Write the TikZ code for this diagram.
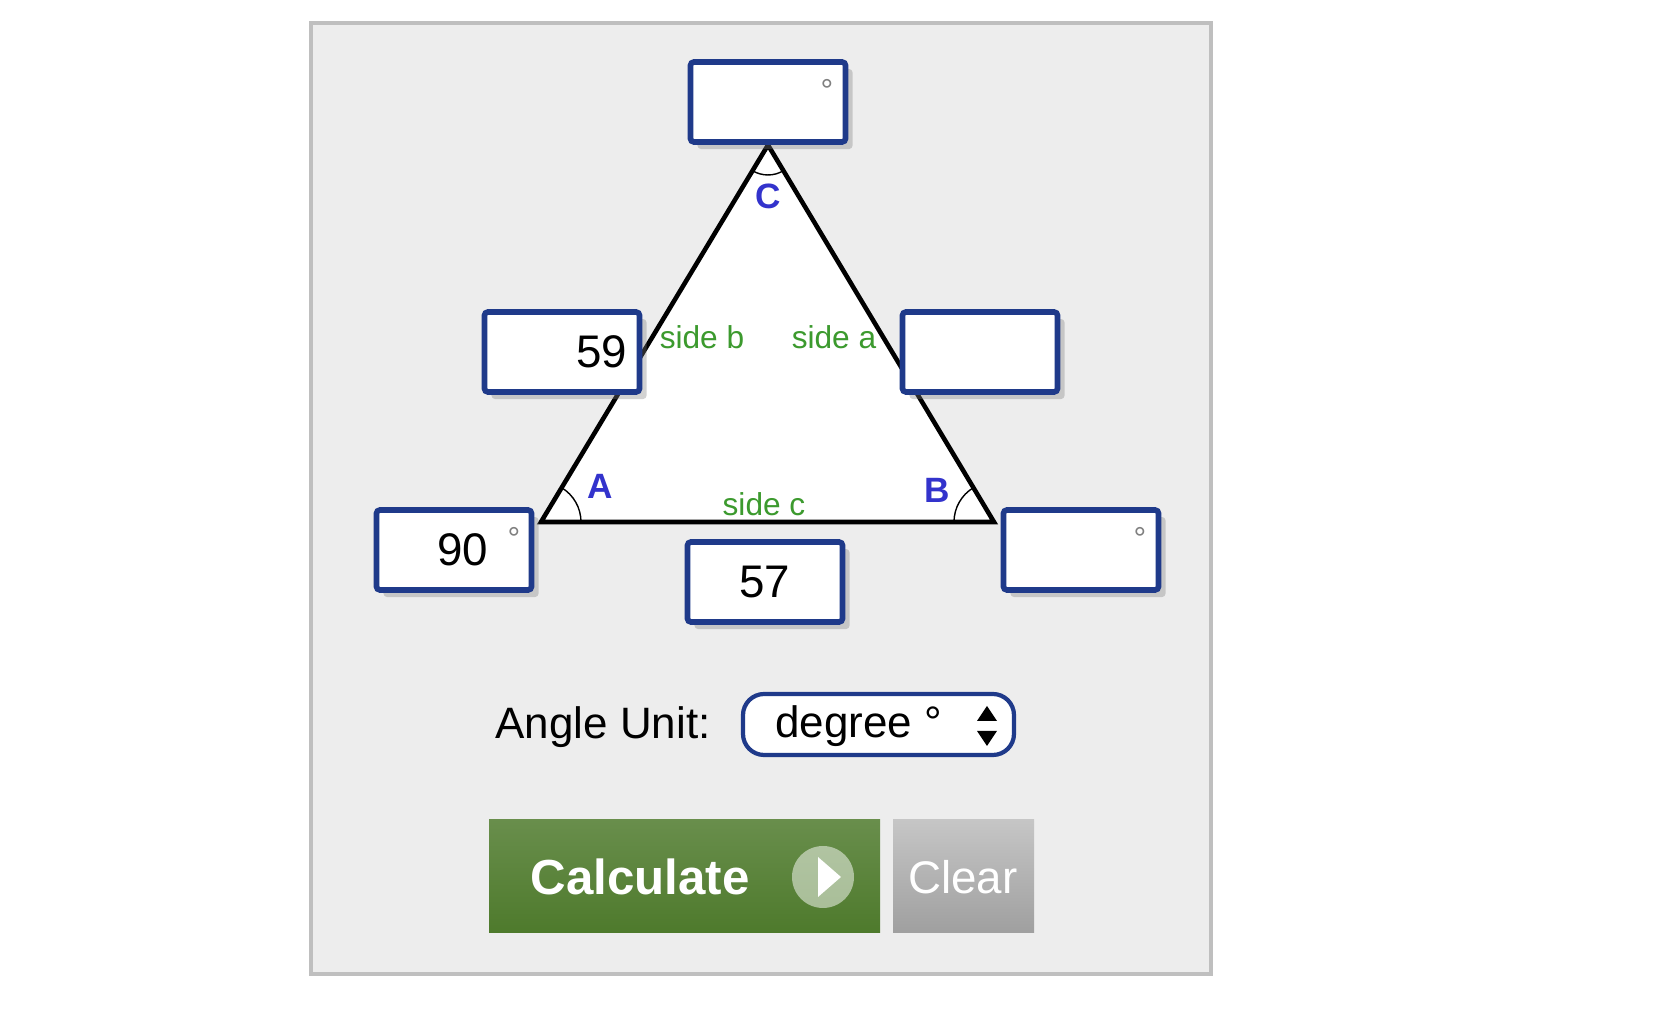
\documentclass[tikz,border=0pt]{standalone}
\usepackage{fontspec}
\setmainfont{Liberation Sans}
\usetikzlibrary{shadows,calc}
\definecolor{panelgray}{HTML}{EDEDED}
\definecolor{boxblue}{HTML}{1F3A8A}
\definecolor{sidegreen}{HTML}{3C9A2E}
\definecolor{anglblue}{HTML}{3333CC}
\definecolor{calcgreen}{HTML}{4E7A2C}
\tikzset{
	inbox/.style={draw=boxblue, line width=1.6pt, fill=white, rounded corners=1pt,
		minimum width=1.55cm, minimum height=0.8cm, inner sep=0pt,
		drop shadow={shadow xshift=2pt, shadow yshift=-2pt, opacity=.35}},
	sidelbl/.style={text=sidegreen, font=\fontsize{9}{10}\selectfont},
	anglbl/.style={text=anglblue, font=\bfseries\fontsize{10}{12}\selectfont},
	deg/.style={text=gray, font=\fontsize{9}{10}\selectfont},
	val/.style={font=\fontsize{13}{15}\selectfont}
}
\begin{document}
\begin{tikzpicture}[x=0.01cm, y=-0.01cm]
	\useasboundingbox (0,0) rectangle (1662,1028);
	\draw[gray!50, line width=1.2pt, fill=panelgray] (311,23) rectangle (1211,974);
	% triangle
	\path
		(541,522) coordinate (A)
		(994,522) coordinate (B)
		(768,145) coordinate (C)
	;
	\draw[line width=1.3pt, fill=white, line join=miter] (A) -- (B) -- (C) -- cycle;
	\draw[thin] ($(A)+(40,0)$) arc[start angle=0, end angle=-59, radius=40];
	\draw[thin] ($(B)+(-40,0)$) arc[start angle=180, end angle=239, radius=40];
	\draw[thin] (C) ++(-15.5,25.7) arc[start angle=121, end angle=59, radius=30];
	\node[anglbl] (lC) at (768,196) {C};
	\node[anglbl] (lA) at (600,486) {A};
	\node[anglbl] (lB) at (937,490) {B};
	\node[sidelbl] (lb) at (702,337) {side b};
	\node[sidelbl] (la) at (834,337) {side a};
	\node[sidelbl] (lc) at (764,504) {side c};
	% input boxes
	\node[inbox] (angC) at (768,102) {};
	\node[deg] at (827,90) {°};
	\node[inbox, val, text width=1.3cm, align=right] (sideb) at (562,352) {59};
	\node[inbox] (sidea) at (980,352) {};
	\node[inbox] (angA) at (454,550) {};
	\node[val] at (463,550) {90};
	\node[deg] at (514,538) {°};
	\node[inbox, val] (sidec) at (765,582) {57};
	\node[inbox] (angB) at (1081,550) {};
	\node[deg] at (1140,538) {°};
	% unit selector
	\node[font=\fontsize{12.5}{14}\selectfont, anchor=east] (unit) at (723,727) {Angle Unit:};
	\draw[boxblue, line width=1.2pt, fill=white, rounded corners=6pt] (743,694) rectangle (1014,755);
	\node[font=\fontsize{12.5}{14}\selectfont, anchor=west] (deg) at (763,726) {degree °};
	\fill (987,706) -- (977,721) -- (997,721) -- cycle;
	\fill (987,746) -- (977,731) -- (997,731) -- cycle;
	% buttons
	\shade[top color=calcgreen!85!white, bottom color=calcgreen] (489,820) rectangle (880,933);
	\node[text=white, font=\bfseries\fontsize{14}{16}\selectfont] (calc) at (640,877) {Calculate};
	\fill[white, opacity=.5] (823,877) circle (31);
	\fill[white] (818,857) -- (818,897) -- (841,877) -- cycle;
	\shade[top color=gray!45, bottom color=gray!75] (893,820) rectangle (1034,933);
	\node[text=white, font=\fontsize{13}{15}\selectfont] (clear) at (963,877) {Clear};
\end{tikzpicture}
\end{document}
